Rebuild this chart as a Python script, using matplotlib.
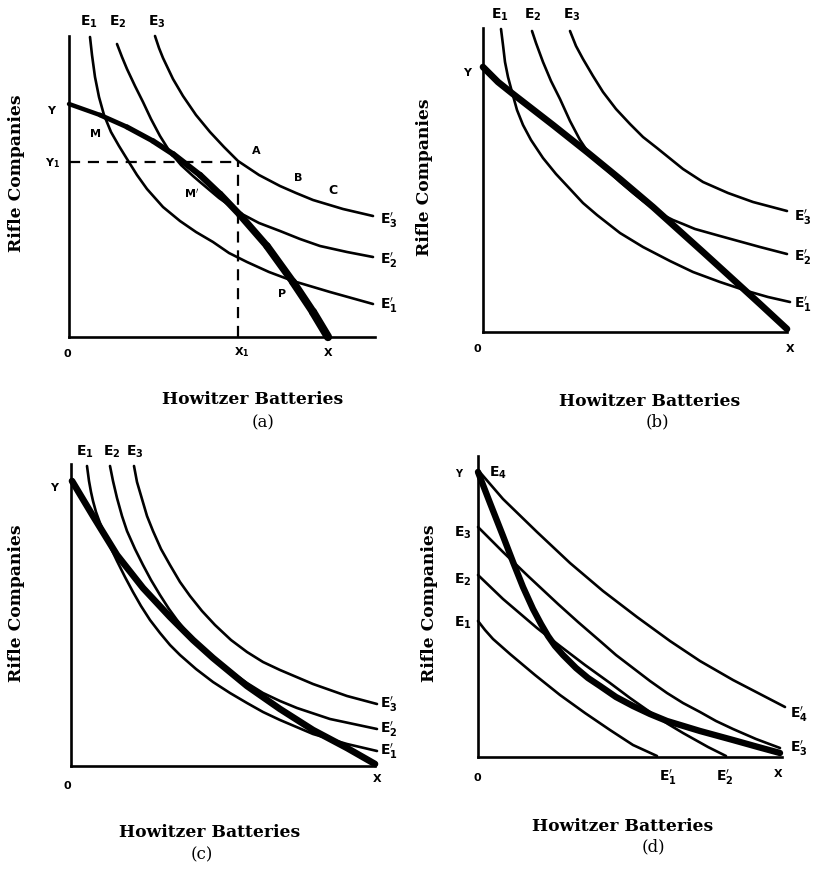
import matplotlib
matplotlib.use('Agg')
import matplotlib.pyplot as plt
from matplotlib.collections import LineCollection

# panel (a)
A_PPF = [(0, 233), (31, 222), (58, 210), (84, 196), (104, 183), (131, 162), (151, 143),
         (171, 122), (198, 91), (224, 55), (244, 25), (259, 0)]
A_E1 = [(21, 300), (23, 282), (26, 260), (30, 240), (35, 222), (42, 205), (50, 191),
        (58, 178), (68, 162), (78, 148), (94, 130), (111, 116), (127, 105), (144, 95),
        (160, 84), (178, 75), (200, 65), (224, 56), (261, 45), (304, 33)]
A_E2 = [(48, 293), (53, 280), (58, 268), (66, 251), (74, 235), (82, 218), (91, 201),
        (101, 185), (112, 172), (124, 161), (131, 155), (150, 139), (171, 124), (190, 114),
        (211, 106), (231, 98), (251, 91), (278, 85), (304, 80)]
A_E3 = [(86, 301), (90, 289), (94, 279), (104, 258), (114, 241), (127, 222), (141, 205),
        (155, 190), (169, 176), (190, 162), (211, 151), (227, 144), (244, 137), (274, 128),
        (304, 121)]
A_X1 = 169
A_Y1 = 175

# panel (b)
B_PPF = [(0, 265), (15, 250), (30, 238), (70, 207), (104, 180), (137, 153), (170, 125),
         (190, 107), (220, 80), (254, 49), (277, 28), (304, 3)]
B_E1 = [(18, 303), (20, 287), (22, 270), (25, 255), (29, 240), (34, 222), (40, 207),
        (48, 192), (60, 174), (73, 158), (87, 143), (100, 129), (114, 117), (137, 99),
        (160, 85), (187, 71), (210, 60), (237, 50), (264, 41), (285, 35), (307, 30)]
B_E2 = [(49, 301), (53, 289), (60, 270), (68, 251), (77, 233), (87, 211), (97, 192),
        (105, 180), (114, 170), (125, 161), (137, 150), (150, 139), (160, 131), (170, 124),
        (180, 117), (190, 112), (200, 108), (212, 103), (237, 96), (277, 85), (304, 78)]
B_E3 = [(87, 301), (93, 286), (100, 273), (110, 256), (120, 240), (133, 223), (147, 208),
        (160, 195), (174, 184), (200, 163), (220, 150), (245, 139), (270, 130), (304, 121)]

# panel (c)
C_PPF = [(1, 285), (22, 250), (46, 211), (72, 178), (99, 149), (122, 126), (142, 108),
         (176, 80), (209, 57), (242, 36), (276, 18), (304, 2)]
C_E1 = [(16, 300), (18, 285), (20, 274), (22, 265), (25, 254), (29, 243), (37, 224),
        (46, 205), (54, 189), (62, 174), (70, 160), (79, 146), (89, 133), (99, 121),
        (109, 111), (125, 97), (142, 84), (159, 73), (176, 63), (192, 54), (209, 46),
        (242, 32), (276, 22), (306, 15)]
C_E2 = [(39, 300), (42, 285), (46, 268), (51, 250), (56, 235), (64, 217), (72, 201),
        (80, 186), (89, 171), (98, 157), (106, 146), (114, 136), (122, 127), (140, 110),
        (159, 95), (176, 83), (192, 73), (209, 65), (226, 58), (259, 47), (306, 37)]
C_E3 = [(63, 300), (66, 284), (71, 267), (76, 250), (82, 235), (90, 217), (99, 201),
        (109, 184), (119, 170), (131, 155), (144, 141), (160, 126), (176, 114), (192, 104),
        (209, 96), (242, 82), (276, 70), (306, 62)]

# panel (d)
D_PPF = [(0, 285), (12, 254), (25, 221), (35, 195), (45, 170), (55, 148), (63, 133),
         (70, 121), (77, 111), (85, 102), (98, 89), (110, 79), (122, 71), (138, 60),
         (155, 51), (172, 43), (189, 36), (222, 26), (255, 17), (280, 10), (302, 4)]
D_E4 = [(0, 287), (25, 258), (59, 225), (92, 194), (125, 166), (159, 140), (192, 116),
        (222, 96), (255, 77), (307, 50)]
D_E3 = [(0, 230), (25, 205), (50, 181), (80, 153), (100, 135), (122, 116), (138, 102),
        (155, 89), (172, 76), (189, 64), (205, 54), (222, 45), (238, 36), (255, 28),
        (278, 18), (302, 9)]
D_E2 = [(0, 182), (25, 158), (59, 129), (82, 111), (107, 92), (132, 74), (152, 59),
        (172, 45), (190, 33), (205, 24), (230, 10), (240, 5), (248, 1)]
D_E1 = [(0, 136), (7, 127), (15, 118), (32, 103), (57, 82), (82, 62), (107, 44),
        (132, 27), (155, 12), (179, 1)]

FW, FH = 817, 870
fig = plt.figure(figsize=(FW / 100, FH / 100), dpi=100)
fig.patch.set_facecolor('white')

SERIF = dict(family='DejaVu Serif', weight='bold', fontsize=12.3)
LAB = dict(family='DejaVu Sans', fontsize=10, ha='center', va='center')


def panel(ox, oy, w, h):
    ax = fig.add_axes([ox / FW, (FH - oy) / FH, w / FW, h / FH])
    ax.set_xlim(0, w)
    ax.set_ylim(0, h)
    for s in ('top', 'right'):
        ax.spines[s].set_visible(False)
    for s in ('left', 'bottom'):
        ax.spines[s].set_linewidth(1.9)
        ax.spines[s].set_color('black')
    ax.set_xticks([])
    ax.set_yticks([])
    ax.patch.set_alpha(0)
    return ax


def curve(ax, pts, lw=1.9):
    xs = [p[0] for p in pts]
    ys = [p[1] for p in pts]
    ax.plot(xs, ys, color='black', lw=lw, solid_capstyle='round',
            solid_joinstyle='round', clip_on=False)


def tapered(ax, pts, lw0, lw1):
    # thick line that gets heavier towards X, as drawn in the scan
    segs = [[pts[i], pts[i + 1]] for i in range(len(pts) - 1)]
    n = len(segs)
    widths = [lw0 + (lw1 - lw0) * i / max(n - 1, 1) for i in range(n)]
    lc = LineCollection(segs, linewidths=widths, colors='black', capstyle='round',
                        joinstyle='round', clip_on=False)
    ax.add_collection(lc)


def lab(ax, x, y, s, **kw):
    d = dict(LAB)
    d.update(kw)
    ax.text(x, y, s, clip_on=False, **d)


def titles(ax, hb, tag, rc):
    ax.text(hb[0], hb[1], 'Howitzer Batteries', ha='center', va='center', **SERIF)
    ax.text(tag[0], tag[1], tag[2], ha='center', va='center', family='DejaVu Serif',
            fontsize=12)
    ax.text(rc[0], rc[1], 'Rifle Companies', rotation=90, ha='center', va='center', **SERIF)


E1 = r'$\mathbf{E_1}$'
E2 = r'$\mathbf{E_2}$'
E3 = r'$\mathbf{E_3}$'
E4 = r'$\mathbf{E_4}$'
E1p = r"$\mathbf{E_1'}$"
E2p = r"$\mathbf{E_2'}$"
E3p = r"$\mathbf{E_3'}$"
E4p = r"$\mathbf{E_4'}$"
DASH = (0, (5, 3.5))

# ---- (a)
ax = panel(69, 338, 306, 301)
tapered(ax, A_PPF, 3.2, 6.0)
for c in (A_E1, A_E2, A_E3):
    curve(ax, c)
ax.plot([0, A_X1], [A_Y1, A_Y1], color='black', lw=1.6, ls=DASH)
ax.plot([A_X1, A_X1], [0, A_Y1], color='black', lw=1.6, ls=DASH)
lab(ax, 20, 316, E1)
lab(ax, 49, 316, E2)
lab(ax, 88, 316, E3)
lab(ax, -17, 228, r'$\mathbf{Y}$', fontsize=8)
lab(ax, -16, 175, r'$\mathbf{Y_1}$', fontsize=8)
lab(ax, 26, 205, r'$\mathbf{M}$', fontsize=8)
lab(ax, 123, 145, r"$\mathbf{M'}$", fontsize=8)
lab(ax, 187, 188, r'$\mathbf{A}$', fontsize=8)
lab(ax, 229, 161, r'$\mathbf{B}$', fontsize=8)
lab(ax, 264, 148, r'$\mathbf{C}$', fontsize=9)
lab(ax, 213, 45, r'$\mathbf{P}$', fontsize=8)
lab(ax, 320, 118, E3p)
lab(ax, 320, 78, E2p)
lab(ax, 320, 33, E1p)
lab(ax, -1, -15, r'$\mathbf{0}$', fontsize=8)
lab(ax, 173, -14, r'$\mathbf{X_1}$', fontsize=8)
lab(ax, 259, -14, r'$\mathbf{X}$', fontsize=8)
titles(ax, (184, -62), (194, -85, '(a)'), (-52, 165))

# ---- (b)
ax = panel(483, 333, 304, 304)
curve(ax, B_PPF, lw=4.8)
for c in (B_E1, B_E2, B_E3):
    curve(ax, c)
lab(ax, 17, 318, E1)
lab(ax, 50, 318, E2)
lab(ax, 89, 318, E3)
lab(ax, -15, 261, r'$\mathbf{Y}$', fontsize=8)
lab(ax, 320, 116, E3p)
lab(ax, 320, 76, E2p)
lab(ax, 320, 29, E1p)
lab(ax, -5, -15, r'$\mathbf{0}$', fontsize=8)
lab(ax, 307, -15, r'$\mathbf{X}$', fontsize=8)
titles(ax, (167, -69), (174, -89, '(b)'), (-58, 156))

# ---- (c)
ax = panel(71, 767, 304, 302)
curve(ax, C_PPF, lw=4.8)
for c in (C_E1, C_E2, C_E3):
    curve(ax, c)
lab(ax, 14, 315, E1)
lab(ax, 41, 315, E2)
lab(ax, 64, 315, E3)
lab(ax, -16, 280, r'$\mathbf{Y}$', fontsize=8)
lab(ax, 318, 63, E3p)
lab(ax, 318, 38, E2p)
lab(ax, 318, 16, E1p)
lab(ax, -3, -18, r'$\mathbf{0}$', fontsize=8)
lab(ax, 306, -11, r'$\mathbf{X}$', fontsize=8)
titles(ax, (139, -66), (131, -88, '(c)'), (-54, 164))

# ---- (d)
ax = panel(478, 758, 304, 301)
curve(ax, D_PPF, lw=4.6)
for c in (D_E4, D_E3, D_E2, D_E1):
    curve(ax, c)
lab(ax, -18, 285, r'$\mathbf{Y}$', fontsize=7)
lab(ax, 20, 285, E4)
lab(ax, -15, 225, E3)
lab(ax, -15, 178, E2)
lab(ax, -15, 135, E1)
lab(ax, 321, 44, E4p)
lab(ax, 321, 10, E3p)
lab(ax, 0, -19, r'$\mathbf{0}$', fontsize=8)
lab(ax, 190, -19, E1p)
lab(ax, 247, -19, E2p)
lab(ax, 300, -15, r'$\mathbf{X}$', fontsize=8)
titles(ax, (145, -69), (175, -89, '(d)'), (-48, 155))

fig.savefig('out.png', dpi=100, facecolor='white')
